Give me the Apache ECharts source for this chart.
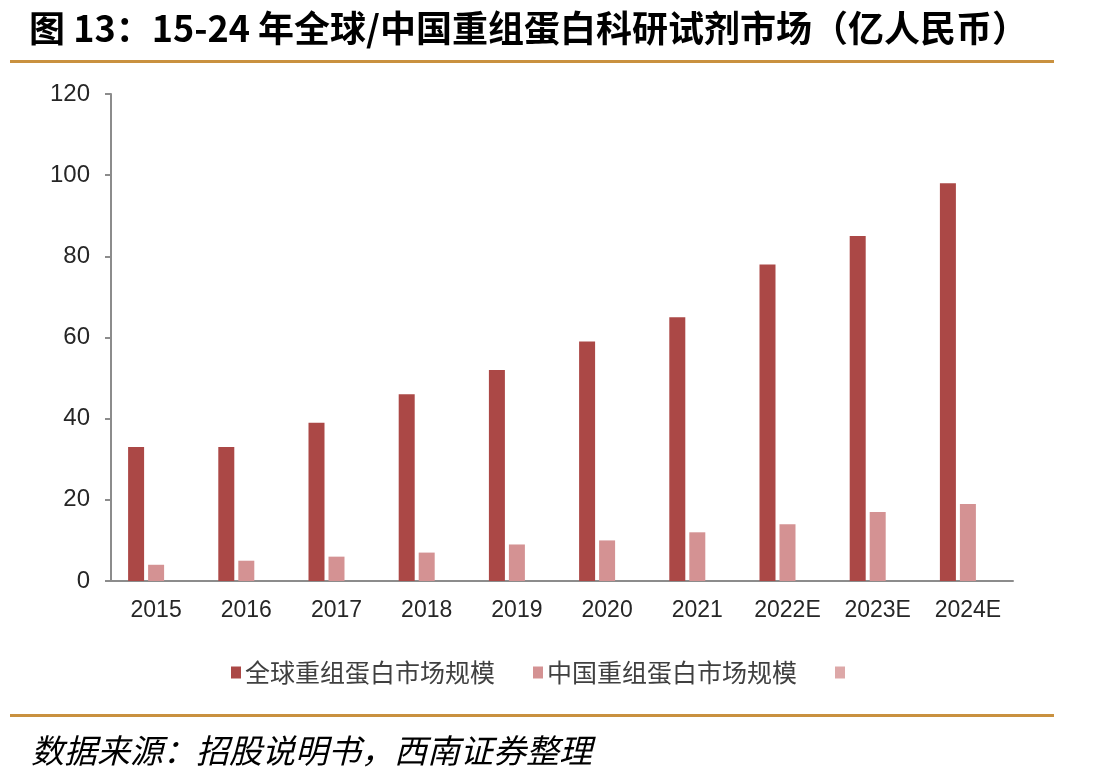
<!DOCTYPE html>
<html>
<head>
<meta charset="utf-8">
<script src="https://cdn.jsdelivr.net/npm/echarts@6/dist/echarts.min.js"></script>
<style>
  html, body { margin: 0; padding: 0; background: #fff; }
  #chart { width: 1119px; height: 783px; }
</style>
</head>
<body>
<div id="chart"></div>
<script>
// 年份
const years = ['2015', '2016', '2017', '2018', '2019', '2020', '2021', '2022E', '2023E', '2024E'];
// 全球重组蛋白市场规模（亿人民币）
const globalMarket = [33, 33, 39, 46, 52, 59, 65, 78, 85, 98];
// 中国重组蛋白市场规模（亿人民币）
const chinaMarket = [4, 5, 6, 7, 9, 10, 12, 14, 17, 19];
// 第三个图例项没有数据
const emptySeries = [null, null, null, null, null, null, null, null, null, null];
const yTicks = [0, 20, 40, 60, 80, 100, 120];

const titleText = '图 13：15-24 年全球/中国重组蛋白科研试剂市场（亿人民币）';
const sourceText = '数据来源：招股说明书，西南证券整理';

const chart = echarts.init(document.getElementById('chart'));
chart.setOption({
    backgroundColor: '#fff',
    animation: false,
    title: [
        {
            text: titleText,
            left: 24, top: 5,
            textStyle: { fontFamily: '"Noto Sans CJK SC", sans-serif', fontSize: 36, fontWeight: 'bold', color: '#000' }
        },
        {
            text: sourceText,
            left: 26, top: 729,
            textStyle: { fontFamily: '"Noto Sans CJK SC", sans-serif', fontSize: 33, fontWeight: 'normal', fontStyle: 'italic', color: '#000' }
        }
    ],
    graphic: [
        { type: 'rect', shape: { x: 10, y: 60, width: 1044, height: 3 }, style: { fill: '#C9913F' } },
        { type: 'rect', shape: { x: 10, y: 714, width: 1044, height: 3 }, style: { fill: '#C9913F' } }
    ],
    legend: {
        top: 655,
        left: 226,
        itemGap: 38,
        itemWidth: 10,
        itemHeight: 12,
        icon: 'rect',
        data: ['全球重组蛋白市场规模', '中国重组蛋白市场规模', ' '],
        textStyle: { fontFamily: '"Noto Sans CJK SC", sans-serif', fontSize: 25, color: '#404040', padding: [0, 0, 0, -1] }
    },
    grid: { left: 111, right: 106, top: 94, bottom: 202 },
    xAxis: {
        type: 'category',
        data: years,
        axisLine: { lineStyle: { color: '#8c8c8c', width: 2 } },
        axisTick: { show: false },
        axisLabel: { interval: 0, fontFamily: 'Liberation Sans, Arial, sans-serif', fontSize: 23, color: '#262626', margin: 18 }
    },
    yAxis: {
        type: 'value',
        min: yTicks[0],
        max: yTicks[yTicks.length - 1],
        interval: 20,
        splitLine: { show: false },
        axisLine: { show: true, lineStyle: { color: '#8c8c8c', width: 2 } },
        axisTick: { show: true, length: 6, lineStyle: { color: '#8c8c8c', width: 2 } },
        axisLabel: { fontFamily: 'Liberation Sans, Arial, sans-serif', fontSize: 24, color: '#262626', margin: 21 }
    },
    series: [
        {
            name: '全球重组蛋白市场规模', type: 'bar', data: globalMarket,
            barWidth: 16, barGap: '25%',
            itemStyle: { color: '#AB4846' }
        },
        {
            name: '中国重组蛋白市场规模', type: 'bar', data: chinaMarket,
            barWidth: 16, barGap: '25%',
            itemStyle: { color: '#D49293' }
        },
        {
            name: ' ', type: 'bar', data: emptySeries,
            barWidth: 16, barGap: '25%',
            itemStyle: { color: '#DDA8A8' }
        }
    ]
});
</script>
</body>
</html>
